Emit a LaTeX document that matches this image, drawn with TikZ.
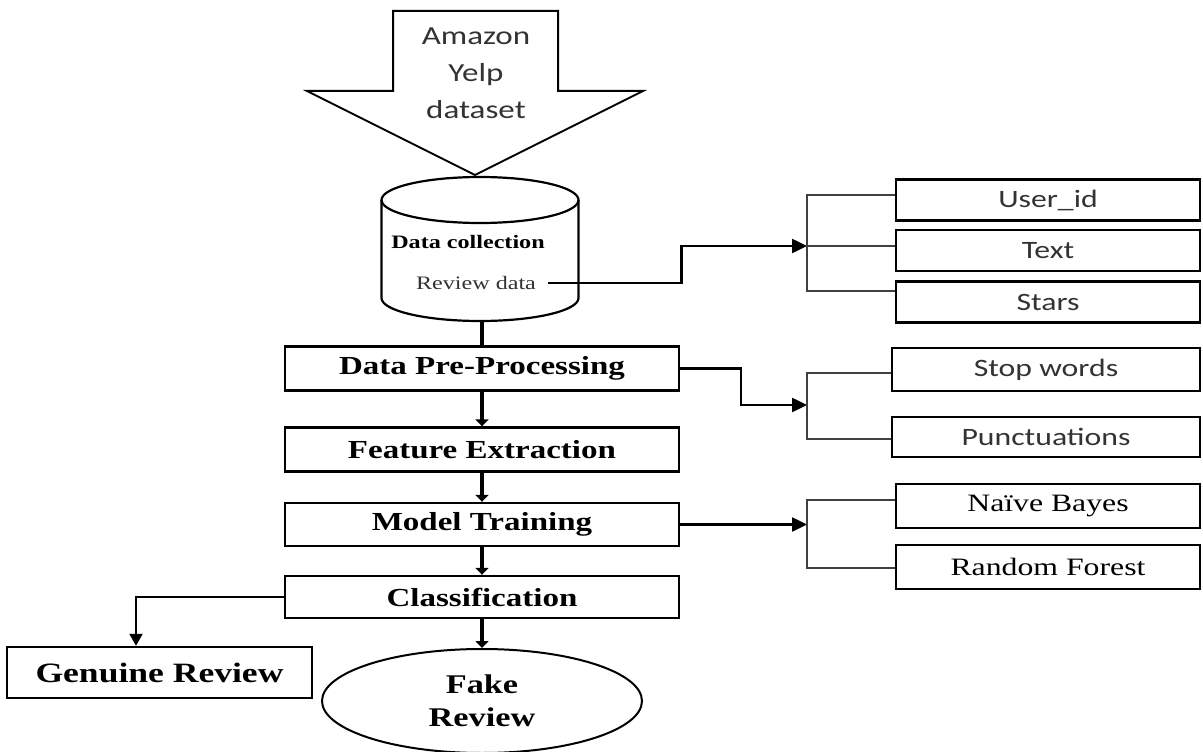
\documentclass[tikz,border=0pt]{standalone}
\usepackage{fontspec}
\setmainfont{Liberation Serif}[FakeStretch=1.27]
\newfontfamily\calibrifont{Carlito}[FakeStretch=1.27]
\usetikzlibrary{shapes.geometric}
\usetikzlibrary{arrows.meta}

\begin{document}
\begin{tikzpicture}[
    x=1pt, y=-1pt, % pixel-like units, y grows downwards
    stepbox/.style={
        draw, % Frame around each processing step
        line width=2.4pt,
        minimum width=394pt,
        minimum height=44pt,
        inner sep=0pt,
        font=\fontsize{26}{30}\selectfont\bfseries
    },
    itembox/.style={
        draw, % Frame around each detail item
        line width=2.4pt,
        minimum width=304pt,
        minimum height=41pt,
        inner sep=0pt
    },
    sanslabel/.style={font=\calibrifont\fontsize{25}{30}\selectfont, text=black!80},
    seriflabel/.style={font=\fontsize{25}{30}\selectfont},
    flow/.style={line width=4.5pt, -{Triangle[length=7pt,width=13pt]}}, % main column arrows
    link/.style={line width=2.5pt, -{Triangle[length=15pt,width=14pt]}}, % arrows to the details
    split/.style={line width=2pt, -{Triangle[length=12pt,width=13pt]}},
    brace/.style={line width=1.6pt, draw=black!75}, % thin brackets
]
\useasboundingbox (0,0) rectangle (1203,752);
\fill[white] (0,0) rectangle (1203,752);

% input arrow
\draw[line width=2pt] (393,11) -- (558,11) -- (558,91) -- (643,91) -- (475,175)
    -- (307,91) -- (393,91) -- cycle;
\node[font=\calibrifont\fontsize{26}{37}\selectfont, text=black!80, align=center]
    (src) at (476,73) {Amazon\\Yelp\\dataset};

% data store
\draw[line width=2.2pt] (480,200) ellipse [x radius=98.5pt, y radius=23pt];
\draw[line width=2.2pt] (381.5,200) -- (381.5,298)
    arc[start angle=180, end angle=360, x radius=98.5pt, y radius=23pt] -- (578.5,200);
\node[font=\fontsize{19}{22}\selectfont\bfseries] (coll) at (468,242) {Data collection};
\node[font=\fontsize{19}{22}\selectfont, text=black!80] (rev) at (476,283) {Review data};
\coordinate (cylbot) at (482,321);

% main steps
\node[stepbox] (pre) at (482,368.5) {Data Pre-Processing};
\node[stepbox] (feat) at (482,449.5) {Feature Extraction};
\node[stepbox, minimum height=43pt] (model) at (482,524.5) {Model Training};
\node[stepbox, minimum height=42pt] (cls) at (482,597) {Classification};
\node[stepbox, minimum width=305pt, minimum height=51pt,
    font=\fontsize{28}{32}\selectfont\bfseries] (genuine) at (159.5,672.5) {Genuine Review};
\node[ellipse, draw, line width=2pt, minimum width=320pt, minimum height=104pt,
    inner sep=0pt, align=center, font=\fontsize{27}{33}\selectfont\bfseries]
    (fake) at (482,701) {Fake\\Review};

% detail items
\node[itembox, sanslabel] (user) at (1048,200) {User\_id};
\node[itembox, sanslabel] (txt) at (1048,250.5) {Text};
\node[itembox, sanslabel] (stars) at (1048,302) {Stars};
\node[itembox, sanslabel, minimum width=308pt, minimum height=43pt] (stop) at (1046,369.5) {Stop words};
\node[itembox, sanslabel, minimum width=308pt, minimum height=40pt] (punct) at (1046,437) {Punctuations};
\node[itembox, seriflabel, minimum height=44pt] (bayes) at (1048,506) {Naïve Bayes};
\node[itembox, seriflabel, minimum height=44pt] (forest) at (1048,567) {Random Forest};

\coordinate (b1) at (807,246);
\coordinate (b2) at (807,405);
\coordinate (b3) at (807,524.5);

% main column
\draw[line width=4.5pt] (cylbot) -- (pre.north);
\draw[flow] (pre.south) -- (feat.north);
\draw[flow] (feat.south) -- (model.north);
\draw[flow] (model.south) -- (cls.north);
\draw[flow] (cls.south) -- (fake.north);
\draw[split] (cls.west) -| ([xshift=-23.5pt]genuine.north);

% side branches
\draw[link] ([xshift=8pt]rev.east) -- ++(134,0) |- (b1);
\draw[link] (pre.east) -- ++(61,0) |- (b2);
\draw[link] (model.east) -- (b3);

\draw[brace] ([yshift=5pt]user.west) -| (b1) |- ([yshift=11pt]stars.west);
\draw[brace] (b1) -- ([yshift=4.5pt]txt.west);
\draw[brace] ([yshift=-3.5pt]stop.west) -| (b2) |- ([yshift=-2pt]punct.west);
\draw[brace] ([yshift=6pt]bayes.west) -| (b3) |- ([yshift=-1pt]forest.west);
\end{tikzpicture}
\end{document}
